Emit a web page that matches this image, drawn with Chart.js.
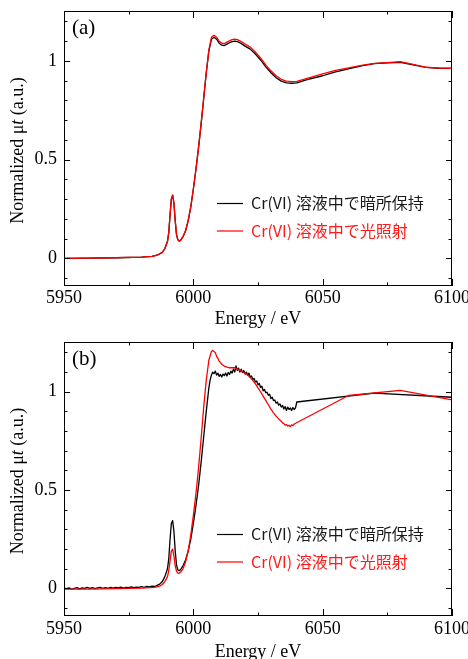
<!DOCTYPE html>
<html lang="ja">
<head>
<meta charset="UTF-8">
<title>Cr K-edge XANES</title>
<script src="https://cdn.jsdelivr.net/npm/chart.js"></script>
<style>
  body { margin: 0; background: #fff; }
  .panel { position: relative; width: 468px; }
  #wrapA { height: 330px; }
  #wrapB { height: 329px; }
</style>
</head>
<body>
<div class="panel" id="wrapA"><canvas id="chartA"></canvas></div>
<div class="panel" id="wrapB"><canvas id="chartB"></canvas></div>

<script>
// axis ticks
const xMajor = [5950, 6000, 6050, 6100];
const xMinor = [5975, 6025, 6075];
const yMajor = [0, 0.5, 1];
const yMinor = [-0.1, 0.1, 0.2, 0.3, 0.4, 0.6, 0.7, 0.8, 0.9, 1.1, 1.2];
const legendLabels = ['Cr(VI) 溶液中で暗所保持', 'Cr(VI) 溶液中で光照射'];

// (a) energy grid, shared by both curves
const energyA = [5950, 5960, 5970, 5980, 5984, 5986, 5988, 5989,
  5990, 5990.5, 5991, 5991.5, 5992, 5992.5, 5993, 5993.5, 5994, 5994.5, 5995,
  5996, 5997, 5998, 5999, 6000, 6001, 6002, 6003, 6004, 6005, 6006, 6007, 6008, 6009, 6010,
  6011, 6012, 6013, 6014, 6015, 6016, 6017, 6018, 6019, 6020,
  6022, 6024, 6026, 6028, 6030, 6032, 6034, 6036, 6038, 6040,
  6044, 6050, 6055, 6060, 6065, 6070, 6075, 6080, 6085, 6090, 6095, 6100];
const darkA = [0, 0.001, 0.003, 0.006, 0.01, 0.016, 0.03, 0.05,
  0.085, 0.13, 0.22, 0.3, 0.32, 0.28, 0.19, 0.12, 0.095, 0.088, 0.09,
  0.11, 0.14, 0.19, 0.26, 0.35, 0.45, 0.56, 0.68, 0.81, 0.94, 1.05, 1.11, 1.12, 1.11, 1.09,
  1.08, 1.078, 1.085, 1.092, 1.098, 1.1, 1.098, 1.092, 1.084, 1.075,
  1.06, 1.035, 1.005, 0.97, 0.94, 0.915, 0.898, 0.889, 0.887, 0.889,
  0.905, 0.925, 0.945, 0.96, 0.975, 0.986, 0.99, 0.993, 0.98, 0.967, 0.963, 0.962];
const lightA = [0, 0.001, 0.003, 0.006, 0.01, 0.016, 0.03, 0.05,
  0.085, 0.13, 0.22, 0.3, 0.32, 0.28, 0.19, 0.12, 0.095, 0.088, 0.09,
  0.11, 0.14, 0.19, 0.26, 0.35, 0.45, 0.56, 0.68, 0.81, 0.94, 1.055, 1.12, 1.13, 1.12, 1.1,
  1.09, 1.088, 1.095, 1.102, 1.108, 1.11, 1.108, 1.102, 1.094, 1.086,
  1.07, 1.045, 1.015, 0.98, 0.95, 0.925, 0.907, 0.898, 0.895, 0.897,
  0.912, 0.935, 0.952, 0.965, 0.978, 0.988, 0.992, 0.996, 0.983, 0.968, 0.964, 0.963];

// (b) dark-kept sample
const energyDarkB = [
  5950, 5951, 5952, 5953, 5954, 5955, 5956, 5957, 5958, 5959,
  5960, 5961, 5962, 5963, 5964, 5965, 5966, 5967, 5968, 5969,
  5970, 5971, 5972, 5973, 5974, 5975, 5976, 5977, 5978, 5979,
  5980, 5981, 5982, 5983, 5984, 5985, 5986, 5987, 5988, 5989,
  5990, 5990.5, 5991, 5991.5, 5992, 5992.5, 5993, 5993.5, 5994, 5994.5,
  5995, 5996, 5997, 5998, 5999, 6000, 6001, 6002, 6003, 6004,
  6005, 6005.5, 6006, 6006.5, 6007, 6007.5, 6008, 6008.5, 6009, 6009.5,
  6010, 6010.5, 6011, 6011.5, 6012, 6012.5, 6013, 6013.5, 6014, 6014.5,
  6015, 6015.5, 6016, 6016.5, 6017, 6017.5, 6018, 6018.5, 6019, 6019.5,
  6020, 6020.5, 6021, 6021.5, 6022, 6022.5, 6023, 6023.5, 6024, 6024.5,
  6025, 6025.5, 6026, 6026.5, 6027, 6027.5, 6028, 6028.5, 6029, 6029.5,
  6030, 6030.5, 6031, 6031.5, 6032, 6032.5, 6033, 6033.5, 6034, 6034.5,
  6035, 6035.5, 6036, 6036.5, 6037, 6037.5, 6038, 6038.5, 6039, 6039.5,
  6040, 6070, 6100];
const darkB = [
  0.002, -0.001, 0.003, -0.004, 0.001, 0.004, -0.002, 0.003, 0.0, 0.005,
  0.001, 0.004, -0.001, 0.003, 0.006, 0.001, 0.004, 0.0, 0.005, 0.002,
  0.006, 0.003, 0.007, 0.002, 0.006, 0.004, 0.008, 0.004, 0.007, 0.005,
  0.009, 0.006, 0.01, 0.008, 0.012, 0.01, 0.016, 0.022, 0.035, 0.06,
  0.1, 0.15, 0.25, 0.33, 0.345, 0.29, 0.19, 0.12, 0.095, 0.09,
  0.095, 0.115, 0.145, 0.19, 0.25, 0.33, 0.42, 0.52, 0.64, 0.77,
  0.9, 0.96, 1.02, 1.06, 1.085, 1.1, 1.092, 1.105, 1.085, 1.095,
  1.078, 1.088, 1.075, 1.09, 1.082, 1.095, 1.08, 1.098, 1.088, 1.105,
  1.095, 1.115, 1.1, 1.132, 1.108, 1.12, 1.1, 1.115, 1.098, 1.108,
  1.09, 1.1, 1.085, 1.095, 1.075, 1.08, 1.062, 1.068, 1.05, 1.055,
  1.035, 1.042, 1.022, 1.028, 1.005, 1.012, 0.995, 0.998, 0.982, 0.988,
  0.965, 0.972, 0.955, 0.958, 0.942, 0.948, 0.932, 0.938, 0.922, 0.93,
  0.912, 0.925, 0.905, 0.922, 0.91, 0.918, 0.905, 0.92, 0.91, 0.918,
  0.948, 0.993, 0.972];

// (b) light-irradiated sample
const energyLightB = [
  5950, 5960, 5970, 5980, 5985, 5987, 5988, 5989, 5990, 5990.5,
  5991, 5991.5, 5992, 5992.5, 5993, 5993.5, 5994, 5994.5, 5995, 5996,
  5997, 5998, 5999, 6000, 6001, 6002, 6003, 6004, 6005, 6006,
  6007, 6007.5, 6008, 6008.5, 6009, 6009.5, 6010, 6010.5, 6011, 6012,
  6013, 6014, 6015, 6016, 6017, 6018, 6019, 6020, 6021, 6022,
  6023, 6024, 6025, 6026, 6027, 6028, 6029, 6030, 6031, 6032,
  6033, 6034, 6034.5, 6035, 6035.5, 6036, 6036.5, 6037, 6037.5, 6038,
  6038.5, 6039, 6060, 6080, 6100];
const lightB = [
  -0.003, -0.003, -0.001, 0.002, 0.006, 0.012, 0.02, 0.035, 0.06, 0.09,
  0.14, 0.19, 0.2, 0.165, 0.115, 0.088, 0.078, 0.077, 0.082, 0.1,
  0.135, 0.19, 0.27, 0.37, 0.48, 0.61, 0.76, 0.92, 1.06, 1.16,
  1.205, 1.21, 1.205, 1.2, 1.18, 1.17, 1.155, 1.148, 1.14, 1.13,
  1.125, 1.122, 1.123, 1.122, 1.115, 1.108, 1.102, 1.094, 1.085, 1.072,
  1.058, 1.04, 1.02, 1.0, 0.978, 0.956, 0.934, 0.912, 0.893, 0.876,
  0.862, 0.85, 0.842, 0.838, 0.83, 0.833, 0.825, 0.83, 0.823, 0.832,
  0.828, 0.836, 0.981, 1.007, 0.959];

const SERIF = '"Liberation Serif", "Times New Roman", serif';
const SANS = '"Noto Sans CJK JP", "Noto Sans", sans-serif';

function toPoints(xs, ys) {
  return xs.map((x, i) => ({ x: x, y: ys[i] }));
}

// frame, inward ticks, titles, panel label and legend
const decor = {
  id: 'decor',
  afterDatasetsDraw(chart) {
    const { ctx, chartArea: a, scales } = chart;
    const x = scales.x, y = scales.y;
    ctx.save();
    ctx.strokeStyle = '#000';
    ctx.lineWidth = 1;
    ctx.strokeRect(a.left + 0.5, a.top + 0.5, a.right - a.left - 1, a.bottom - a.top - 1);
    ctx.beginPath();
    const xt = (v, len) => {
      const px = Math.round(x.getPixelForValue(v)) + 0.5;
      ctx.moveTo(px, a.bottom); ctx.lineTo(px, a.bottom - len);
      ctx.moveTo(px, a.top); ctx.lineTo(px, a.top + len);
    };
    const yt = (v, len) => {
      const py = Math.round(y.getPixelForValue(v)) + 0.5;
      ctx.moveTo(a.left, py); ctx.lineTo(a.left + len, py);
      ctx.moveTo(a.right, py); ctx.lineTo(a.right - len, py);
    };
    xMajor.forEach(v => xt(v, 7));
    xMinor.forEach(v => xt(v, 3.5));
    yMajor.forEach(v => yt(v, 6));
    yMinor.forEach(v => yt(v, 3.5));
    ctx.stroke();
    ctx.restore();
  },
  afterDraw(chart, args, opts) {
    const { ctx, chartArea: a } = chart;
    ctx.save();
    ctx.fillStyle = '#000';

    // panel label
    ctx.font = '21px ' + SERIF;
    ctx.textAlign = 'left';
    ctx.textBaseline = 'middle';
    ctx.fillText(opts.panel, a.left + 8, a.top + 17);

    // x title
    ctx.font = '18px ' + SERIF;
    ctx.textAlign = 'center';
    ctx.fillText('Energy / eV', (a.left + a.right) / 2, a.bottom + opts.xTitleGap);

    // y title, with italic t
    ctx.translate(18, (a.top + a.bottom) / 2 + 2);
    ctx.rotate(-Math.PI / 2);
    const parts = [['Normalized μ', ''], ['t', 'italic '], [' (a.u.)', '']];
    let total = 0;
    parts.forEach(p => { ctx.font = p[1] + '18px ' + SERIF; p.push(ctx.measureText(p[0]).width); total += p[2]; });
    let cx = -total / 2;
    ctx.textAlign = 'left';
    parts.forEach(p => { ctx.font = p[1] + '18px ' + SERIF; ctx.fillText(p[0], cx, 0); cx += p[2]; });
    ctx.restore();

    // legend
    ctx.save();
    ctx.font = '16px ' + SANS;
    ctx.textAlign = 'left';
    ctx.textBaseline = 'middle';
    chart.data.datasets.forEach((ds, i) => {
      const ly = a.top + opts.legendTop + i * 27.5;
      const lx = a.left + 153;
      ctx.strokeStyle = ds.borderColor;
      ctx.lineWidth = 1.2;
      ctx.beginPath();
      ctx.moveTo(lx, ly + 0.5);
      ctx.lineTo(lx + 26, ly + 0.5);
      ctx.stroke();
      ctx.fillStyle = ds.textColor;
      ctx.fillText(ds.label, lx + 34, ly);
    });
    ctx.restore();
  }
};

function drawPanel(id, panel, dark, light, padTop, xAxisH, labelPad, xTitleGap) {
  new Chart(document.getElementById(id), {
    type: 'line',
    data: {
      datasets: [
        { label: legendLabels[0], data: dark, borderColor: '#000000', textColor: '#1a1a1a', order: 2 },
        { label: legendLabels[1], data: light, borderColor: '#ff0000', textColor: '#ff1a1a', order: 1 }
      ]
    },
    options: {
      responsive: true,
      maintainAspectRatio: false,
      devicePixelRatio: 1,
      animation: false,
      parsing: true,
      elements: {
        point: { radius: 0 },
        line: { borderWidth: 1.3, tension: 0, fill: false, borderJoinStyle: 'round' }
      },
      layout: { padding: { left: 0, right: 16, top: padTop, bottom: 0 } },
      plugins: {
        legend: { display: false },
        tooltip: { enabled: false },
        decor: { panel: panel, xTitleGap: xTitleGap, legendTop: 192 }
      },
      scales: {
        x: {
          type: 'linear',
          min: 5950,
          max: 6100,
          grid: { display: false, drawTicks: false },
          border: { display: false },
          ticks: {
            padding: labelPad,
            color: '#000',
            maxRotation: 0,
            autoSkip: false,
            font: { family: SERIF, size: 18 },
            callback: v => String(v)
          },
          afterBuildTicks: s => { s.ticks = xMajor.map(v => ({ value: v })); },
          afterFit: s => { s.paddingLeft = 0; s.paddingRight = 0; s.height = xAxisH; }
        },
        y: {
          min: -0.14,
          max: 1.253,
          grid: { display: false, drawTicks: false },
          border: { display: false },
          ticks: {
            padding: 7,
            color: '#000',
            font: { family: SERIF, size: 18 },
            callback: v => String(v)
          },
          afterBuildTicks: s => { s.ticks = yMajor.map(v => ({ value: v })); },
          afterFit: s => { s.paddingTop = 0; s.paddingBottom = 0; s.width = 64; }
        }
      }
    },
    plugins: [decor]
  });
}

drawPanel('chartA', '(a)', toPoints(energyA, darkA), toPoints(energyA, lightA), 11, 44, 1, 33);
drawPanel('chartB', '(b)', toPoints(energyDarkB, darkB), toPoints(energyLightB, lightB), 12, 43, 2, 36);
</script>
</body>
</html>
